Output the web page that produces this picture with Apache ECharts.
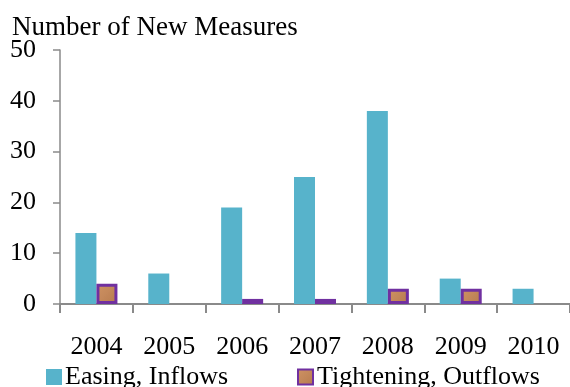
<!DOCTYPE html>
<html>
<head>
<meta charset="utf-8">
<script src="https://cdn.jsdelivr.net/npm/echarts@6/dist/echarts.min.js"></script>
<style>
  html, body { margin: 0; padding: 0; background: #fff; }
  #chart { width: 570px; height: 387px; }
</style>
</head>
<body>
<div id="chart"></div>
<script>
// Years shown on the category axis
var years = ['2004', '2005', '2006', '2007', '2008', '2009', '2010'];
// Number of new measures per year
var easingInflows = [14, 6, 19, 25, 38, 5, 3];
var tighteningOutflows = [4, 0, 1, 1, 3, 3, 0];
// Value axis ticks
var yTicks = [0, 10, 20, 30, 40, 50];

var FONT = '"Liberation Serif", "Times New Roman", serif';
var AXIS_GRAY = '#8a8a8a';

var chart = echarts.init(document.getElementById('chart'));

chart.setOption({
  animation: false,
  backgroundColor: '#fff',
  textStyle: { fontFamily: FONT },
  title: {
    text: 'Number of New Measures',
    left: 12,
    top: 14,
    padding: 0,
    textStyle: { fontFamily: FONT, fontSize: 27, fontWeight: 'normal', color: '#000' }
  },
  legend: [
    {
      data: ['Easing, Inflows'],
      left: 46,
      top: 364,
      padding: 0,
      icon: 'rect',
      itemWidth: 16,
      itemHeight: 16,
      itemGap: 0,
      textStyle: { fontFamily: FONT, fontSize: 26, color: '#000', padding: [0, 0, 0, -2] }
    },
    {
      data: ['Tightening, Outflows'],
      left: 297,
      top: 364,
      padding: 0,
      icon: 'rect',
      itemWidth: 15,
      itemHeight: 15,
      itemGap: 0,
      textStyle: { fontFamily: FONT, fontSize: 26, color: '#000', padding: [0, 0, 0, -1] }
    }
  ],
  grid: { left: 60, top: 50, width: 511, height: 254, containLabel: false },
  xAxis: {
    type: 'category',
    data: years,
    boundaryGap: true,
    axisLine: { lineStyle: { color: AXIS_GRAY, width: 2 } },
    axisTick: { show: true, interval: 0, length: 9, lineStyle: { color: AXIS_GRAY, width: 2 } },
    axisLabel: { fontFamily: FONT, fontSize: 26, color: '#000', margin: 30, interval: 0 }
  },
  yAxis: {
    type: 'value',
    min: yTicks[0],
    max: yTicks[yTicks.length - 1],
    interval: yTicks[1] - yTicks[0],
    splitLine: { show: false },
    axisLine: { show: true, lineStyle: { color: AXIS_GRAY, width: 1.5 } },
    axisTick: { show: true, length: 7, lineStyle: { color: AXIS_GRAY, width: 1.5 } },
    axisLabel: { fontFamily: FONT, fontSize: 26, color: '#000', margin: 24 }
  },
  series: [
    {
      name: 'Easing, Inflows',
      type: 'bar',
      data: easingInflows,
      barWidth: 21,
      barGap: '0%',
      itemStyle: { color: '#57b3cb' }
    },
    {
      name: 'Tightening, Outflows',
      type: 'bar',
      // years without a measure get no mark
      data: tighteningOutflows.map(function (v) { return v === 0 ? null : v; }),
      barWidth: 21,
      barGap: '0%',
      itemStyle: {
        color: new echarts.graphic.LinearGradient(0, 0, 1, 1, [
          { offset: 0, color: '#cf9263' },
          { offset: 0.5, color: '#c3875a' },
          { offset: 1, color: '#b57a4c' }
        ]),
        borderColor: '#7030a0',
        borderWidth: 3
      }
    }
  ]
});
</script>
</body>
</html>
